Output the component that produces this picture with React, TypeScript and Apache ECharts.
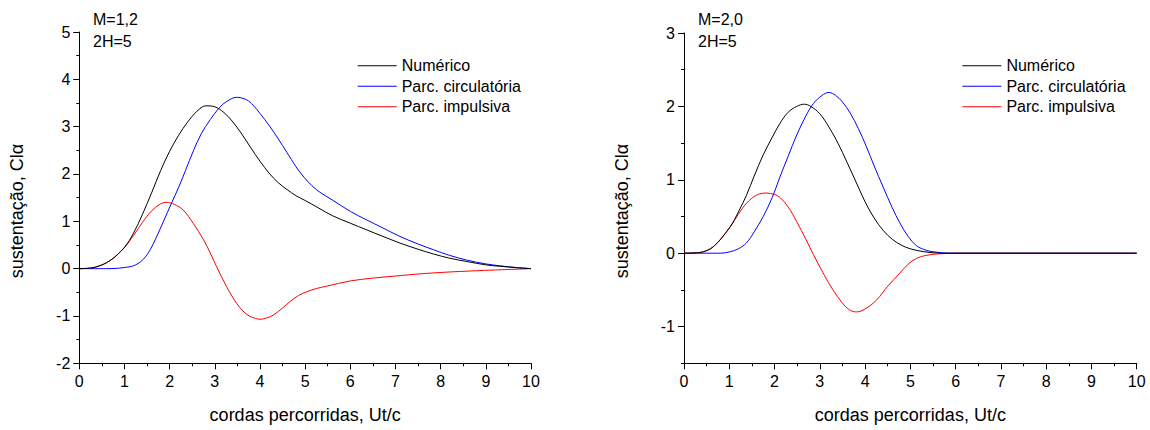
import React, { useEffect, useRef } from "react";
import * as echarts from "echarts";

const FONT = "'Liberation Sans', Arial, sans-serif";
const names = ["Numérico", "Parc. circulatória", "Parc. impulsiva"];
const colors = ["#000000", "#0000ff", "#ff0000"];

// M = 1,2
const numM12X = [0, 0.35, 0.68, 1.0, 1.2, 1.4, 1.6, 1.8, 2.0, 2.2, 2.4, 2.6, 2.8, 3.0, 3.2, 3.4, 3.6, 3.8, 4.0, 4.2, 4.4, 4.6, 4.8, 5.0, 5.3, 5.6, 6.0, 6.36, 6.7, 7.1, 7.5, 7.84, 8.2, 8.58, 9.0, 9.31, 9.7, 10];
const numM12Y = [0, 0.03, 0.17, 0.45, 0.75, 1.15, 1.6, 2.07, 2.48, 2.82, 3.1, 3.32, 3.44, 3.42, 3.3, 3.1, 2.84, 2.55, 2.27, 2.02, 1.82, 1.67, 1.54, 1.44, 1.28, 1.12, 0.96, 0.82, 0.69, 0.54, 0.41, 0.31, 0.22, 0.15, 0.08, 0.05, 0.02, 0];
const circM12X = [0, 0.68, 1.05, 1.25, 1.42, 1.57, 1.7, 1.86, 2.04, 2.2, 2.35, 2.53, 2.7, 2.9, 3.1, 3.26, 3.48, 3.7, 3.85, 4.0, 4.2, 4.4, 4.6, 4.8, 4.9, 5.05, 5.26, 5.45, 5.62, 6.0, 6.36, 6.7, 7.1, 7.5, 7.84, 8.2, 8.58, 9.0, 9.31, 9.7, 10];
const circM12Y = [0, 0, 0.03, 0.08, 0.2, 0.4, 0.65, 0.99, 1.38, 1.72, 2.07, 2.5, 2.85, 3.15, 3.4, 3.53, 3.62, 3.57, 3.45, 3.28, 3.03, 2.75, 2.45, 2.15, 2.02, 1.85, 1.66, 1.54, 1.44, 1.21, 1.03, 0.87, 0.68, 0.52, 0.4, 0.28, 0.18, 0.1, 0.06, 0.02, 0];
const impM12X = [0, 0.35, 0.68, 1.0, 1.2, 1.4, 1.6, 1.8, 1.93, 2.1, 2.3, 2.52, 2.75, 2.9, 3.04, 3.26, 3.48, 3.65, 3.78, 3.9, 4.0, 4.15, 4.3, 4.5, 4.66, 4.85, 5.03, 5.25, 5.48, 6.0, 6.5, 6.95, 7.69, 8.42, 9.16, 10];
const impM12Y = [0, 0.03, 0.17, 0.45, 0.7, 0.98, 1.22, 1.37, 1.4, 1.36, 1.24, 0.96, 0.61, 0.33, 0.04, -0.38, -0.73, -0.92, -1.01, -1.05, -1.07, -1.04, -0.98, -0.83, -0.7, -0.57, -0.49, -0.42, -0.37, -0.26, -0.2, -0.16, -0.1, -0.06, -0.03, 0];

// M = 2,0
const numM20X = [0, 0.35, 0.65, 1.02, 1.2, 1.38, 1.55, 1.75, 1.95, 2.12, 2.3, 2.49, 2.66, 2.8, 3.0, 3.2, 3.4, 3.6, 3.8, 4.0, 4.2, 4.4, 4.6, 4.8, 5.0, 5.3, 5.7, 10];
const numM20Y = [0, 0.01, 0.09, 0.36, 0.56, 0.79, 1.05, 1.34, 1.58, 1.77, 1.92, 2.0, 2.03, 2.0, 1.9, 1.72, 1.5, 1.24, 0.97, 0.7, 0.48, 0.31, 0.19, 0.11, 0.06, 0.02, 0, 0];
const circM20X = [0, 0.8, 1.02, 1.2, 1.38, 1.55, 1.75, 1.95, 2.12, 2.3, 2.49, 2.7, 2.86, 3.05, 3.2, 3.35, 3.5, 3.67, 3.85, 4.03, 4.2, 4.4, 4.6, 4.77, 4.95, 5.14, 5.35, 5.5, 5.87, 10];
const circM20Y = [0, 0, 0.02, 0.06, 0.14, 0.29, 0.5, 0.76, 1.04, 1.32, 1.61, 1.88, 2.04, 2.15, 2.19, 2.15, 2.06, 1.91, 1.7, 1.45, 1.19, 0.9, 0.62, 0.41, 0.23, 0.1, 0.04, 0.02, 0, 0];
const impM20X = [0, 0.35, 0.65, 1.02, 1.2, 1.38, 1.6, 1.81, 2.0, 2.12, 2.3, 2.49, 2.7, 2.86, 3.1, 3.29, 3.5, 3.65, 3.81, 4.0, 4.25, 4.5, 4.77, 4.95, 5.14, 5.35, 5.6, 6, 10];
const impM20Y = [0, 0.01, 0.09, 0.36, 0.53, 0.68, 0.79, 0.82, 0.8, 0.76, 0.63, 0.43, 0.18, -0.02, -0.3, -0.5, -0.68, -0.77, -0.8, -0.76, -0.64, -0.45, -0.27, -0.15, -0.07, -0.03, -0.01, 0, 0];

const rightMajorTicks = [-1, 0, 1, 2, 3];

const zip = (xs: number[], ys: number[]) => xs.map((x, i) => [x, ys[i]]);

export default function App() {
  const ref = useRef<HTMLDivElement>(null);
  useEffect(() => {
    if (!ref.current) return;
    const chart = echarts.init(ref.current, null, { renderer: "svg" });
    const axisLine = { show: true, onZero: false, lineStyle: { color: "#000", width: 1 } };
    const label = { color: "#000", fontSize: 16, fontFamily: FONT, margin: 9 };
    const xAxisBase = (gridIndex: number) => ({
      type: "value",
      gridIndex,
      min: 0,
      max: 10,
      interval: 1,
      axisLine,
      axisTick: { show: true, inside: false, length: 6, lineStyle: { color: "#000" } },
      minorTick: { show: true, splitNumber: 2, length: 3, lineStyle: { color: "#000" } },
      axisLabel: { ...label, margin: 10 },
      splitLine: { show: false },
      name: "cordas percorridas, Ut/c",
      nameLocation: "middle",
      nameGap: 43,
      nameTextStyle: { color: "#000", fontSize: 18, fontFamily: FONT },
    });
    const mk = (name: string, idx: number, data: number[][], g: number) => ({
      type: "line",
      name,
      xAxisIndex: g,
      yAxisIndex: g,
      data,
      symbol: "none",
      smooth: 0.35,
      lineStyle: { color: colors[idx], width: 1 },
      itemStyle: { color: colors[idx] },
      z: 3 - idx,
    });
    const legend = (left: number) => ({
      left,
      top: 52.7,
      orient: "vertical",
      icon: "rect",
      itemWidth: 39,
      itemHeight: 1,
      itemGap: 4.5,
      data: names,
      selectedMode: false,
      textStyle: { color: "#000", fontSize: 16, fontFamily: FONT },
    });
    const txt = (x: number, y: number, text: string, size = 16, rot = 0) => ({
      type: "text",
      x,
      y,
      rotation: rot,
      style: {
        text,
        fill: "#000",
        font: `${size}px ${FONT}`,
        align: rot ? "center" : "left",
        verticalAlign: "middle",
      },
    });
    chart.setOption({
      animation: false,
      backgroundColor: "#fff",
      grid: [
        { left: 79.3, top: 32, width: 451.7, height: 331.3 },
        { left: 684, top: 33, width: 452.7, height: 330.3 },
      ],
      xAxis: [xAxisBase(0), xAxisBase(1)],
      yAxis: [
        {
          type: "value",
          gridIndex: 0,
          min: -2,
          max: 5,
          interval: 1,
          axisLine,
          axisTick: { show: true, length: 6, lineStyle: { color: "#000" } },
          minorTick: { show: true, splitNumber: 2, length: 3, lineStyle: { color: "#000" } },
          axisLabel: label,
          splitLine: { show: false },
        },
        {
          type: "value",
          gridIndex: 1,
          position: "left",
          min: -1.5,
          max: 3,
          axisLine,
          axisTick: { show: true, length: 6, customValues: rightMajorTicks, lineStyle: { color: "#000" } },
          axisLabel: { ...label, customValues: rightMajorTicks },
          splitLine: { show: false },
        },
        {
          type: "value",
          gridIndex: 1,
          position: "left",
          min: -1.5,
          max: 3,
          interval: 0.5,
          axisLine: { show: false },
          axisTick: { show: true, length: 3, lineStyle: { color: "#000" } },
          axisLabel: { show: false },
          splitLine: { show: false },
        },
      ],
      legend: [legend(352.7), legend(957.4)],
      graphic: [
        txt(93, 19.5, "M=1,2"),
        txt(93, 41, "2H=5"),
        txt(698, 19.5, "M=2,0"),
        txt(698, 41, "2H=5"),
        txt(17, 211, "sustentação, Clα", 18, Math.PI / 2),
        txt(622, 211, "sustentação, Clα", 18, Math.PI / 2),
      ],
      series: [
        mk(names[0], 0, zip(numM12X, numM12Y), 0),
        mk(names[1], 1, zip(circM12X, circM12Y), 0),
        mk(names[2], 2, zip(impM12X, impM12Y), 0),
        mk(names[0], 0, zip(numM20X, numM20Y), 1),
        mk(names[1], 1, zip(circM20X, circM20Y), 1),
        mk(names[2], 2, zip(impM20X, impM20Y), 1),
      ],
    });
    return () => chart.dispose();
  }, []);
  return (
    <div
      ref={ref}
      style={{ position: "absolute", left: 0, top: 0, width: 1150, height: 430, background: "#fff" }}
    />
  );
}
